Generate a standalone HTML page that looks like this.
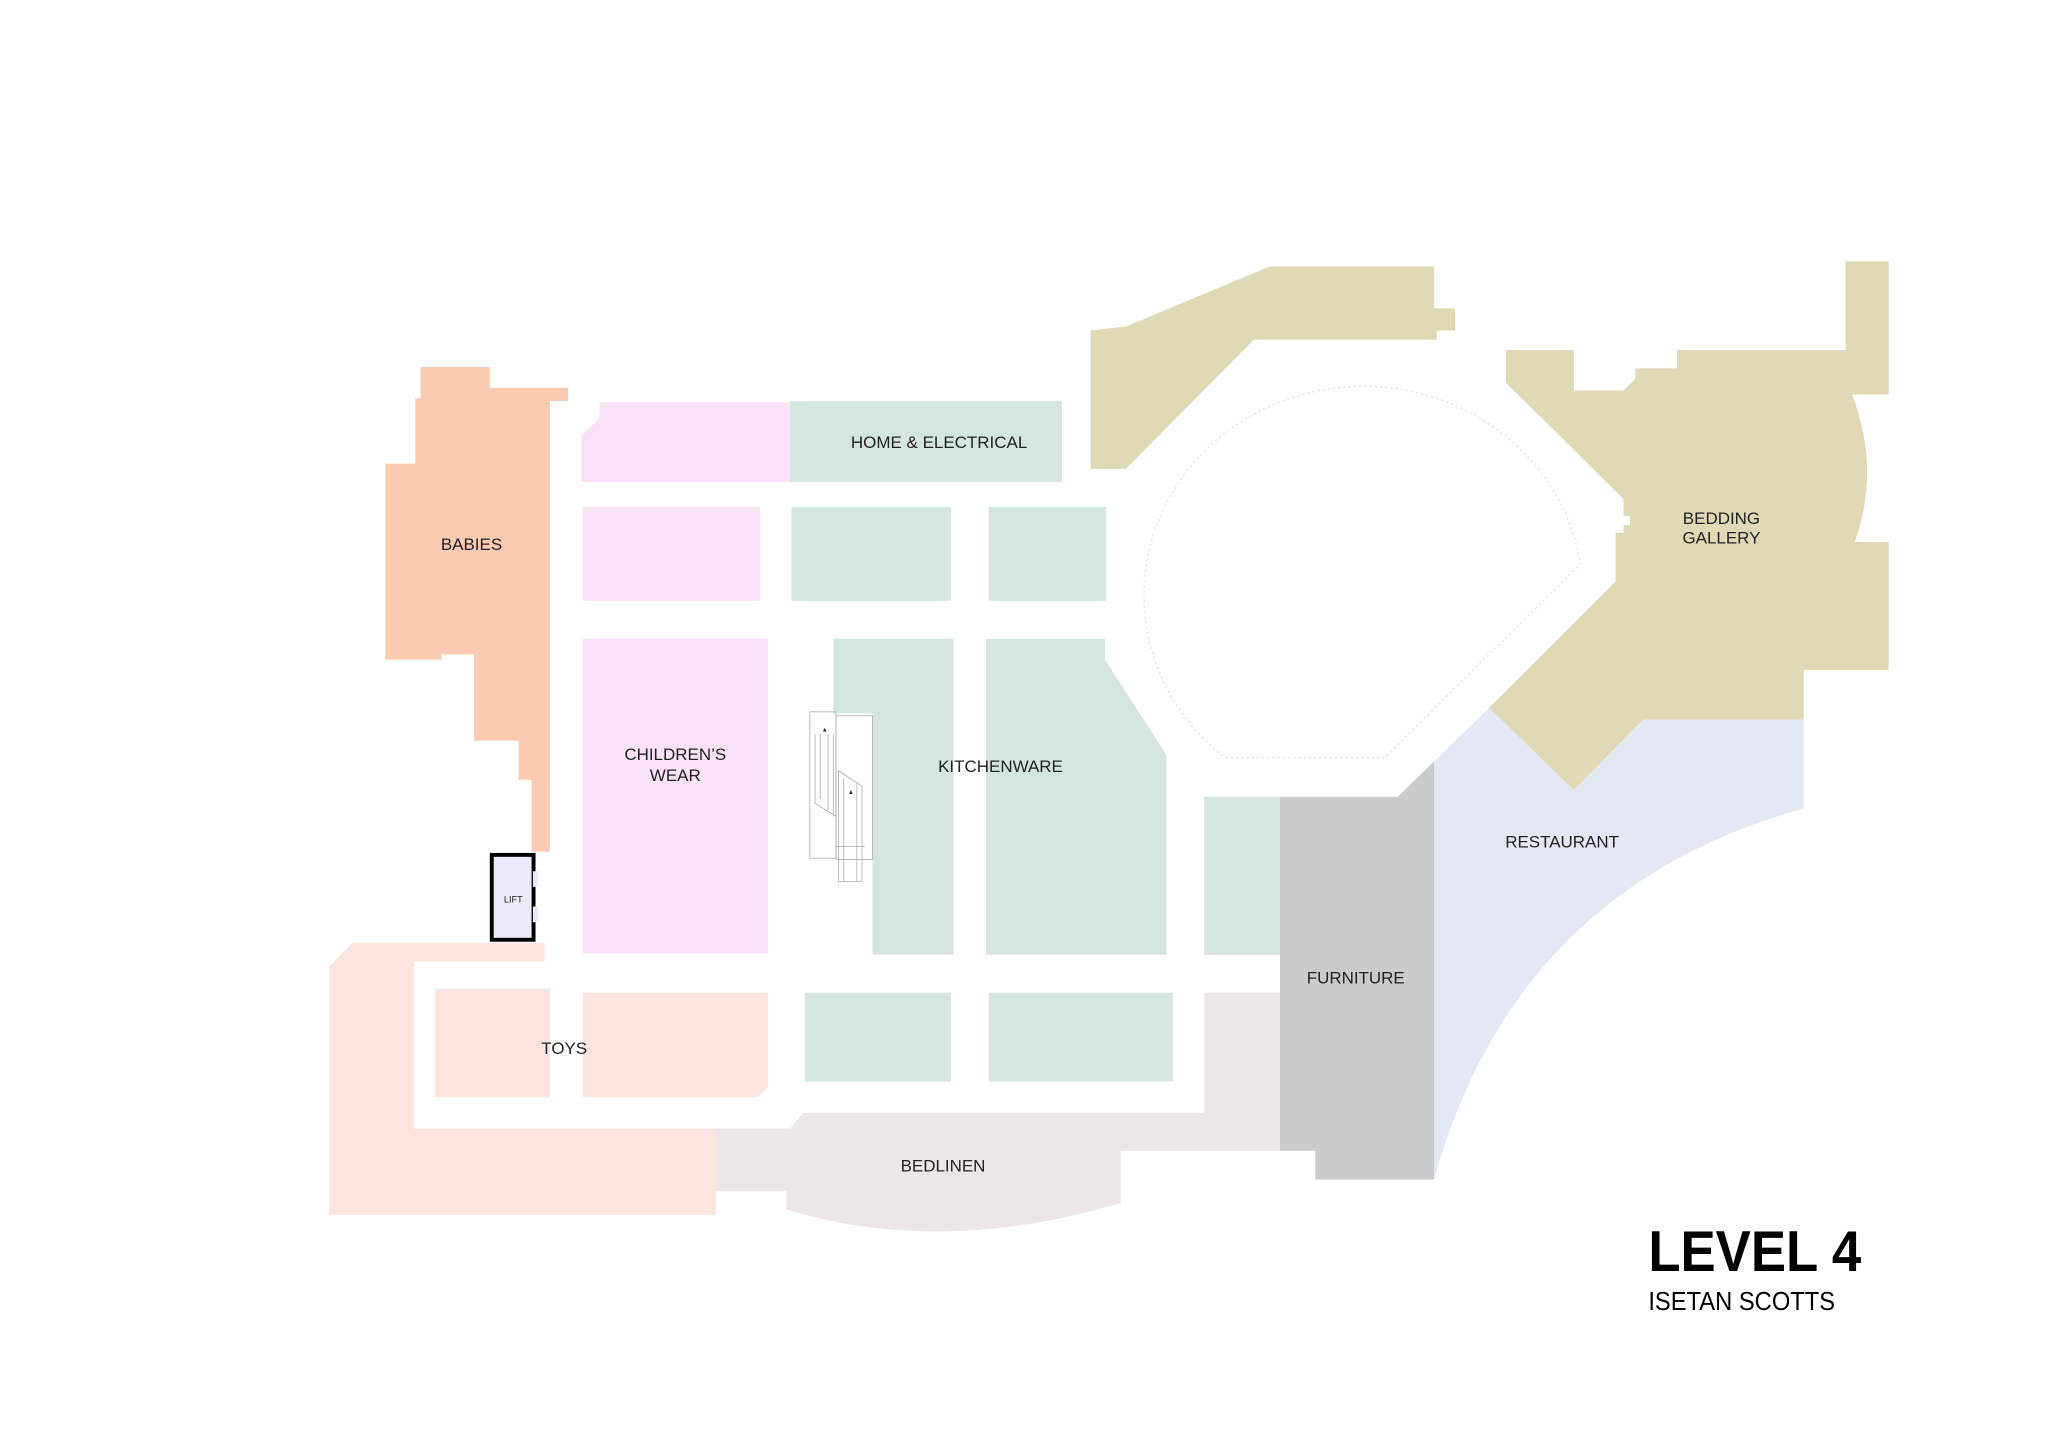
<!DOCTYPE html>
<html><head><meta charset="utf-8"><style>html,body{margin:0;padding:0;background:#fff}svg{display:block}</style></head>
<body>
<svg width="2048" height="1448" viewBox="0 0 1568 1108.6" preserveAspectRatio="none" xmlns="http://www.w3.org/2000/svg" font-family="Liberation Sans, sans-serif">
<rect width="1568" height="1108.6" fill="#fff"/>
<polygon fill="#dfd9b6" points="835,253 862,250 972,204 1098,204 1098,236 1114,236 1114,253 1100,253 1100,260 960,260 862,359 835,359"/>
<path fill="#dfd9b6" d="M1153,268 L1205,268 L1205,299 L1243,299 L1252,290 L1252,282 L1284,282 L1284,268 L1413,268 L1413,200 L1446,200 L1446,302 L1418,302 Q1440,360 1420,415 L1446,415 L1446,513 L1381,513 L1381,551 L1258,551 L1205,605 L1140,542 L1237,445 L1237,408 L1243,408 L1243,402 L1248,402 L1248,395 L1243,395 L1243,382 L1153,293 Z"/>
<path fill="#e4e8f4" d="M1098,583 L1140,542 L1205,605 L1258,551 L1381,551 L1381,619 Q1160,680 1098,903 Z"/>
<path fill="none" stroke="#e6e6e6" stroke-width="1" stroke-dasharray="2,2" d="M938,580 L1060,580 L1210,432 A168,160 0 1 0 938,580"/>
<polygon fill="#cbcbcb" points="980,610 1070,610 1098,583 1098,903 1007,903 1007,881 980,881"/>
<path fill="#ece6e6" d="M548,864 L605,864 L615,852 L922,852 L922,760 L980,760 L980,881 L858,881 L858,921 Q720,962 602,926 L602,912 L548,912 Z"/>
<polygon fill="#fce3dd" points="252,740 270,722 417,722 417,736 317,736 317,864 548,864 548,930 252,930"/>
<rect fill="#fce3dd" x="333" y="757" width="88" height="83"/>
<polygon fill="#fce3dd" points="446,760 588,760 588,832 580,840 446,840"/>
<polygon fill="#fbcbb1" points="322,281 375,281 375,297 435,297 435,307 421,307 421,652 407,652 407,597 397,597 397,567 363,567 363,501 338,501 338,505 295,505 295,355 318,355 318,305 322,305"/>
<rect x="376.5" y="654.5" width="32" height="65" fill="#ece9fb" stroke="#000" stroke-width="3"/>
<rect x="408" y="667" width="4" height="12" fill="#ece9fb"/>
<rect x="408" y="694" width="4" height="12" fill="#ece9fb"/>
<text x="393" y="691" font-size="7" text-anchor="middle" fill="#222">LIFT</text>
<polygon fill="#f9e2f5" points="459,308 605,308 605,369 445,369 445,334 459,320"/>
<rect fill="#f9e2f5" x="446" y="388" width="136" height="72"/>
<rect fill="#f9e2f5" x="446" y="489" width="142" height="241"/>
<rect fill="#d5e6df" x="605" y="307" width="208" height="62"/>
<rect fill="#d5e6df" x="606" y="388" width="122" height="72"/>
<rect fill="#d5e6df" x="757" y="388" width="90" height="72"/>
<polygon fill="#d5e6df" points="638,489 730,489 730,731 668,731 668,546 638,546"/>
<polygon fill="#d5e6df" points="755,489 846,489 846,505 893,578 893,731 755,731"/>
<rect fill="#d5e6df" x="922" y="610" width="58" height="121"/>
<rect fill="#d5e6df" x="616" y="760" width="112" height="68"/>
<rect fill="#d5e6df" x="757" y="760" width="141" height="68"/>
<g fill="none" stroke="#aaa" stroke-width="0.6">
<rect x="620" y="545" width="20" height="112"/>
<rect x="640" y="548" width="28" height="110"/>
<path d="M624,562 L624,615 L640,625 M628,562 L628,612 M634,562 L634,620 M638,562 L638,625"/>
<path d="M642,590 L660,602 L660,675 L642,675 Z M646,596 L646,675 M656,600 L656,675 M640,648 L662,648"/>
</g>
<text x="629" y="560" font-size="5" fill="#333">▲</text>
<text x="649" y="608" font-size="5" fill="#333">▲</text>
<g font-size="13" fill="#222" text-anchor="middle">
<text x="361" y="421">BABIES</text>
<text x="719" y="343">HOME &amp; ELECTRICAL</text>
<text x="517" y="582">CHILDREN’S</text>
<text x="517" y="598">WEAR</text>
<text x="766" y="591">KITCHENWARE</text>
<text x="1196" y="649">RESTAURANT</text>
<text x="1038" y="753">FURNITURE</text>
<text x="432" y="807">TOYS</text>
<text x="722" y="897">BEDLINEN</text>
<text x="1318" y="401">BEDDING</text>
<text x="1318" y="416">GALLERY</text>
</g>
<text x="1262" y="973" font-size="44" font-weight="bold" fill="#000" textLength="163" lengthAdjust="spacingAndGlyphs">LEVEL 4</text>
<text x="1262" y="1003" font-size="20" fill="#000" textLength="143" lengthAdjust="spacingAndGlyphs">ISETAN SCOTTS</text>
</svg>
</body></html>
